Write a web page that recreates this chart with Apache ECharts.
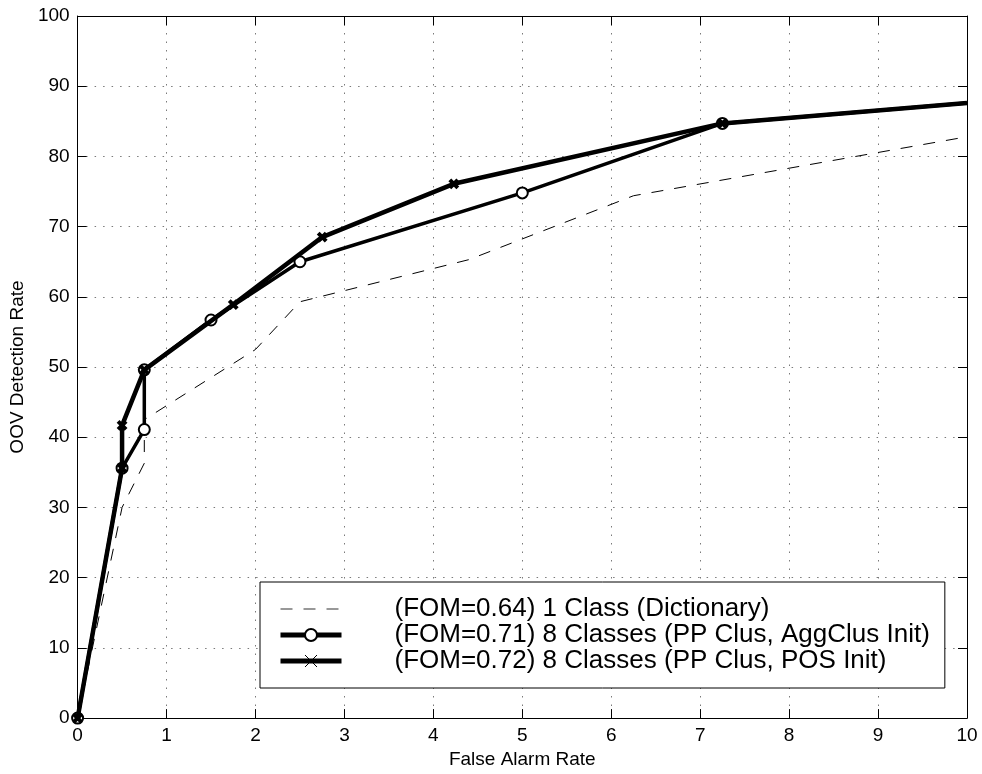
<!DOCTYPE html>
<html>
<head>
<meta charset="utf-8">
<script src="https://cdn.jsdelivr.net/npm/echarts@6/dist/echarts.min.js"></script>
<style>
html,body{margin:0;padding:0;background:#fff;}
#chart{width:982px;height:774px;}
</style>
</head>
<body>
<div id="chart"></div>
<script>
// ---- data ----
var seriesNames = [
  '(FOM=0.64) 1 Class (Dictionary)',
  '(FOM=0.71) 8 Classes (PP Clus, AggClus Init)',
  '(FOM=0.72) 8 Classes (PP Clus, POS Init)'
];
var dictX = [0, 0.5, 0.75, 0.75, 2, 2.5, 4.4, 6.25, 10];
var dictY = [0, 30, 36.3, 42.5, 52.5, 59.3, 65.3, 74.4, 82.8];
var aggX = [0, 0.5, 0.75, 0.75, 1.5, 2.5, 5, 7.25, 10];
var aggY = [0, 35.6, 41.1, 49.6, 56.7, 65.0, 74.8, 84.7, 87.6];
var posX = [0, 0.5, 0.5, 0.75, 1.75, 2.75, 4.23, 7.25, 10];
var posY = [0, 35.6, 41.7, 49.6, 58.9, 68.5, 76.1, 84.7, 87.6];
var xTicks = [0, 1, 2, 3, 4, 5, 6, 7, 8, 9, 10];
var yTicks = [0, 10, 20, 30, 40, 50, 60, 70, 80, 90, 100];
var xTitle = 'False Alarm Rate';
var yTitle = 'OOV Detection Rate';

function pairs(xs, ys, lastNoSymbol) {
  return xs.map(function (x, i) {
    if (lastNoSymbol && i === xs.length - 1) return { value: [x, ys[i]], symbol: 'none' };
    return [x, ys[i]];
  });
}

var FONT = '"Liberation Sans", Arial, Helvetica, sans-serif';
var chart = echarts.init(document.getElementById('chart'), null, { renderer: 'canvas' });

var gridDot = { color: '#7a7a7a', width: 1, type: [1.5, 7] };
var CROSS = 'path://M0,0L10,10M10,0L0,10';

var option = {
  backgroundColor: '#fff',
  animation: false,
  grid: { left: 75, right: 15, top: 16, bottom: 54, containLabel: false },
  xAxis: [{
    type: 'value', min: xTicks[0], max: xTicks[xTicks.length - 1], interval: 1,
    position: 'bottom',
    name: xTitle, nameLocation: 'middle', nameGap: 30,
    nameTextStyle: { fontFamily: FONT, fontSize: 19, color: '#000' },
    axisLine: { show: true, onZero: false, lineStyle: { color: '#000', width: 1 } },
    axisTick: { show: true, inside: true, length: 9, lineStyle: { color: '#000' } },
    axisLabel: { fontFamily: FONT, fontSize: 19, color: '#000', margin: 8 },
    splitLine: { show: true, lineStyle: gridDot }
  }, {
    type: 'value', min: xTicks[0], max: xTicks[xTicks.length - 1], interval: 1,
    position: 'top',
    axisLine: { show: true, onZero: false, lineStyle: { color: '#000', width: 1 } },
    axisTick: { show: true, inside: true, length: 9, lineStyle: { color: '#000' } },
    axisLabel: { show: false },
    splitLine: { show: false }
  }],
  yAxis: [{
    type: 'value', min: yTicks[0], max: yTicks[yTicks.length - 1], interval: 10,
    position: 'left',
    name: yTitle, nameLocation: 'middle', nameGap: 47,
    nameTextStyle: { fontFamily: FONT, fontSize: 19, color: '#000' },
    axisLine: { show: true, onZero: false, lineStyle: { color: '#000', width: 1 } },
    axisTick: { show: true, inside: true, length: 9, lineStyle: { color: '#000' } },
    axisLabel: { fontFamily: FONT, fontSize: 19, color: '#000', margin: 8 },
    splitLine: { show: true, lineStyle: gridDot }
  }, {
    type: 'value', min: yTicks[0], max: yTicks[yTicks.length - 1], interval: 10,
    position: 'right',
    axisLine: { show: true, onZero: false, lineStyle: { color: '#000', width: 1 } },
    axisTick: { show: true, inside: true, length: 9, lineStyle: { color: '#000' } },
    axisLabel: { show: false },
    splitLine: { show: false }
  }],
  legend: {
    orient: 'vertical',
    left: 260, top: 582,
    padding: [14, 15, 14, 18],
    backgroundColor: '#fff',
    borderColor: '#000', borderWidth: 1, borderRadius: 0,
    itemWidth: 61, itemHeight: 15, itemGap: 0,
    textStyle: { fontFamily: FONT, fontSize: 26, color: '#000', lineHeight: 26, padding: [0, 0, 0, 48] },
    data: [
      { name: seriesNames[0], lineStyle: { color: '#777', width: 1.5, type: [12, 11] },
        itemStyle: { opacity: 0, color: 'transparent', borderWidth: 0 } },
      { name: seriesNames[1], lineStyle: { width: 5 }, itemStyle: { borderWidth: 1 } },
      { name: seriesNames[2], lineStyle: { width: 5 }, itemStyle: { borderWidth: 1 } }
    ]
  },
  series: [{
    name: seriesNames[0], type: 'line',
    data: pairs(dictX, dictY, false),
    showSymbol: false, symbol: 'none',
    lineStyle: { color: '#000', width: 1, type: [12, 11] },
    itemStyle: { color: '#000' },
    z: 2
  }, {
    name: seriesNames[1], type: 'line',
    data: pairs(aggX, aggY, true),
    symbol: 'emptyCircle', symbolSize: 11, showAllSymbol: true,
    lineStyle: { color: '#000', width: 3.5 },
    itemStyle: { color: '#000', borderColor: '#000', borderWidth: 3.5 },
    z: 3
  }, {
    name: seriesNames[2], type: 'line',
    data: pairs(posX, posY, true),
    symbol: CROSS, symbolSize: 8, showAllSymbol: true,
    lineStyle: { color: '#000', width: 4.5 },
    itemStyle: { color: '#000', borderColor: '#000', borderWidth: 4 },
    z: 4
  }]
};
chart.setOption(option);
</script>
</body>
</html>
